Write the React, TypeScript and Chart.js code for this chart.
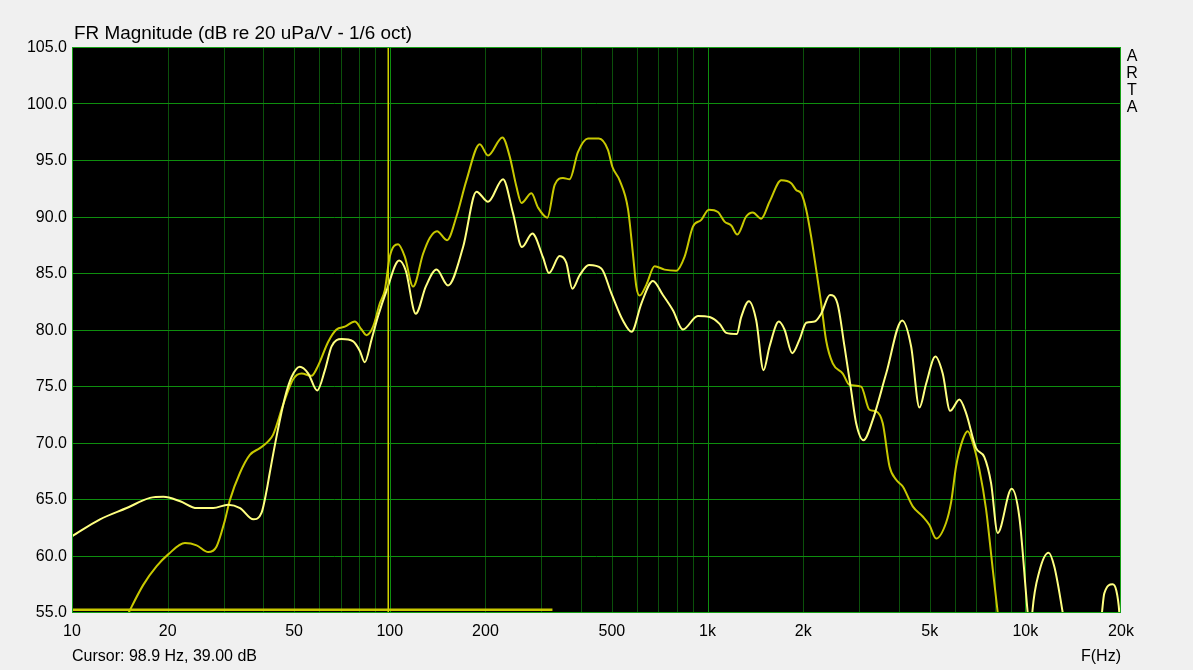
import React, { useEffect, useRef } from "react";
import { Chart, registerables } from "chart.js";

Chart.register(...registerables);

// ---- data ----
const lightFreq = [10, 12.25, 14.86, 17.6, 19.4, 21.9, 24.7, 27.8, 31.0, 33.8, 37.2, 39.5, 41.0, 41.9, 44.0, 46.8, 49.1, 52.1, 55.4, 59.1, 62.5, 65.6, 70.5, 76.7, 80.5, 83.4, 87.6, 91.9, 97.6, 107, 112.3, 120.7, 129.8, 140.3, 152.5, 170.1, 187.4, 203.8, 227.2, 244.2, 260.6, 281, 303.4, 316.9, 342.4, 359.4, 375.4, 395.8, 423.4, 463.2, 498.1, 541.6, 576.8, 618.9, 673, 723.6, 778, 836, 932.3, 1015, 1091, 1145, 1236, 1276, 1349, 1423, 1500, 1567, 1676, 1746, 1847, 1947, 2044, 2171, 2278, 2428, 2563, 2697, 2831, 2935, 3095, 3310, 3648, 4097, 4371, 4642, 4873, 5212, 5495, 5798, 6202, 6509, 6998, 7431, 7801, 8184, 9056, 9574, 10167, 10390, 10520, 11070, 11840, 12340, 13100, 14260, 16480, 17430, 17720, 18820, 19330, 19750, 20000];
const lightDb = [61.7, 63.2, 64.2, 65.1, 65.2, 64.8, 64.2, 64.2, 64.5, 64.2, 63.2, 63.8, 65.8, 67.3, 70.5, 74.0, 75.8, 76.7, 76.1, 74.6, 76.4, 78.5, 79.15, 78.95, 78.1, 77.1, 79.1, 81.2, 83.4, 86.1, 85.2, 81.4, 83.8, 85.3, 83.9, 87.3, 92.2, 91.3, 93.3, 90.3, 87.3, 88.5, 86.4, 85.0, 86.5, 85.9, 83.6, 84.8, 85.7, 85.4, 83.2, 80.8, 79.8, 82.3, 84.3, 83.05, 81.7, 80.0, 81.2, 81.1, 80.5, 79.7, 79.6, 81.1, 82.5, 80.8, 76.4, 78.5, 80.7, 80.0, 77.9, 79.1, 80.6, 80.7, 81.4, 83.05, 82.3, 78.5, 74.6, 71.7, 70.2, 72.0, 76.1, 80.8, 78.5, 73.1, 75.2, 77.6, 76.1, 72.8, 73.8, 72.6, 69.5, 68.7, 66.4, 62.0, 65.9, 63.4, 55.0, 52.5, 55.0, 58.6, 60.25, 59.0, 55.0, 48, 48, 55.0, 56.65, 57.45, 56.9, 55.0, 52];

const darkFreq = [14.8, 16.76, 18.47, 20.08, 22.66, 24.67, 26.83, 28.51, 30.27, 31.39, 33.76, 36.28, 39.01, 41.43, 42.95, 46.19, 49.65, 52.77, 56.73, 59.5, 63.97, 67.97, 72.2, 77.62, 81.47, 84.47, 88.6, 93.0, 96.5, 100, 106.2, 111.5, 118.4, 127.3, 133.6, 140.8, 151.4, 162.1, 174.3, 191.9, 203.8, 226.2, 238.5, 250.3, 259.6, 279.1, 292.7, 313.3, 330.3, 350.8, 368.1, 390.9, 420.5, 455, 485.9, 501.6, 528.9, 561.6, 582.3, 596.8, 611.2, 641.6, 681.3, 732.3, 797.5, 846.9, 899.3, 955.4, 1009, 1078, 1131, 1187, 1240, 1323, 1388, 1475, 1567, 1706, 1833, 1900, 1970, 2044, 2119, 2197, 2278, 2362, 2477, 2664, 2796, 3043, 3231, 3393, 3559, 3736, 3922, 4115, 4422, 4754, 4991, 5239, 5631, 5839, 6055, 6354, 6587, 6830, 7168, 7522, 7896, 8183, 8590];
const darkDb = [54.5, 57.4, 59.05, 60.1, 61.1, 60.9, 60.3, 60.8, 63.1, 64.9, 67.3, 68.9, 69.5, 70.1, 70.7, 73.35, 75.6, 76.1, 75.9, 76.8, 78.9, 80.0, 80.25, 80.7, 80.0, 79.5, 80.25, 82.3, 83.5, 86.45, 87.55, 86.45, 83.8, 86.7, 88.1, 88.7, 87.9, 90.0, 93.2, 96.4, 95.4, 97.0, 95.3, 92.65, 91.2, 92.05, 90.8, 89.9, 92.8, 93.4, 93.3, 95.7, 96.9, 96.9, 95.9, 94.4, 93.2, 90.7, 86.7, 83.8, 83.0, 83.95, 85.6, 85.3, 85.2, 86.45, 89.1, 89.7, 90.6, 90.4, 89.55, 89.2, 88.4, 90.0, 90.35, 89.8, 91.3, 93.2, 92.95, 92.35, 92.05, 90.6, 88.2, 85.3, 82.3, 79.0, 77.0, 76.1, 75.1, 74.95, 72.9, 72.75, 71.7, 67.9, 66.7, 66.1, 64.35, 63.45, 62.7, 61.5, 62.9, 64.7, 67.9, 70.25, 71.0, 70.0, 67.6, 64.1, 58.8, 55.0, 50.0];

// a third trace that sits on the bottom edge (clipped)
const floorFreq = [10, 325];
const floorDb = [55.2, 55.2];

const cursorFreq = 98.9;
const cursorDbRange = [55, 105];

const gridFreqs = [20, 30, 40, 50, 60, 70, 80, 90, 100, 200, 300, 400, 500, 600, 700, 800, 900, 1000, 2000, 3000, 4000, 5000, 6000, 7000, 8000, 9000, 10000];
const decadeFreqs = [100, 1000, 10000];
const xLabelFreqs = [10, 20, 50, 100, 200, 500, 1000, 2000, 5000, 10000, 20000];
const xLabelTexts = ["10", "20", "50", "100", "200", "500", "1k", "2k", "5k", "10k", "20k"];
const yTicks = [55, 60, 65, 70, 75, 80, 85, 90, 95, 100, 105];

const titleText = "FR Magnitude (dB re 20 uPa/V - 1/6 oct)";
const cursorText = "Cursor: 98.9 Hz, 39.00 dB";
const xAxisTitle = "F(Hz)";
const brandLetters = ["A", "R", "T", "A"];

const FONT = '"Liberation Sans", Arial, sans-serif';

const zip = (xs: number[], ys: number[]) => xs.map((x, i) => ({ x, y: ys[i] }));

export default function App() {
  const ref = useRef<HTMLCanvasElement | null>(null);

  useEffect(() => {
    const canvas = ref.current;
    if (!canvas) return;

    const bgPlugin = {
      id: "bgPlugin",
      beforeDraw(chart: any) {
        const { ctx, chartArea } = chart;
        ctx.save();
        ctx.fillStyle = "#f0f0f0";
        ctx.fillRect(0, 0, chart.width, chart.height);
        ctx.fillStyle = "#000000";
        ctx.fillRect(chartArea.left, chartArea.top, chartArea.right - chartArea.left, chartArea.bottom - chartArea.top);
        ctx.restore();
      },
      beforeDatasetsDraw(chart: any) {
        const { ctx, chartArea, scales } = chart;
        const xs = scales.x;
        const ys = scales.y;
        ctx.save();
        ctx.lineWidth = 1;
        gridFreqs.forEach((f) => {
          const px = Math.round(xs.getPixelForValue(f)) + 0.5;
          ctx.strokeStyle = decadeFreqs.includes(f) ? "#0e8e0e" : "#0b500b";
          ctx.beginPath();
          ctx.moveTo(px, chartArea.top);
          ctx.lineTo(px, chartArea.bottom);
          ctx.stroke();
        });
        ctx.strokeStyle = "#0e8e0e";
        yTicks.forEach((v) => {
          const py = Math.round(ys.getPixelForValue(v)) + 0.5;
          ctx.beginPath();
          ctx.moveTo(chartArea.left, py);
          ctx.lineTo(chartArea.right, py);
          ctx.stroke();
        });
        ctx.restore();
      },
      afterDatasetsDraw(chart: any) {
        const { ctx, chartArea } = chart;
        ctx.save();
        ctx.strokeStyle = "#17a017";
        ctx.lineWidth = 1;
        ctx.strokeRect(chartArea.left + 0.5, chartArea.top + 0.5, chartArea.right - chartArea.left - 1, chartArea.bottom - chartArea.top);
        ctx.restore();
      },
      afterDraw(chart: any) {
        const { ctx, chartArea, scales } = chart;
        const xs = scales.x;
        const ys = scales.y;
        ctx.save();
        ctx.fillStyle = "#000";
        ctx.font = `16px ${FONT}`;
        ctx.textAlign = "right";
        ctx.textBaseline = "middle";
        yTicks.forEach((v) => {
          ctx.fillText(v.toFixed(1), chartArea.left - 5, ys.getPixelForValue(v) + 1);
        });
        ctx.textAlign = "center";
        xLabelFreqs.forEach((f, i) => {
          ctx.fillText(xLabelTexts[i], xs.getPixelForValue(f), chartArea.bottom + 20);
        });
        ctx.textAlign = "left";
        ctx.fillText(cursorText, chartArea.left, chartArea.bottom + 45);
        ctx.textAlign = "right";
        ctx.fillText(xAxisTitle, chartArea.right, chartArea.bottom + 45);
        ctx.textAlign = "center";
        brandLetters.forEach((l, i) => {
          ctx.fillText(l, chartArea.right + 11, chartArea.top + 10 + i * 17);
        });
        ctx.font = `18.9px ${FONT}`;
        ctx.textAlign = "left";
        ctx.textBaseline = "alphabetic";
        ctx.fillText(titleText, chartArea.left + 2, chartArea.top - 8);
        ctx.restore();
      },
    };

    const chart = new Chart(canvas, {
      type: "line",
      data: {
        datasets: [
          {
            label: "cursor",
            data: [
              { x: cursorFreq, y: cursorDbRange[0] },
              { x: cursorFreq, y: cursorDbRange[1] },
            ],
            borderColor: "#d2d200",
            borderWidth: 1.5,
            pointRadius: 0,
            tension: 0,
          },
          {
            label: "light",
            data: zip(lightFreq, lightDb),
            borderColor: "#ffff80",
            borderWidth: 2,
            pointRadius: 0,
            cubicInterpolationMode: "monotone",
          },
          {
            label: "dark",
            data: zip(darkFreq, darkDb),
            borderColor: "#c8c800",
            borderWidth: 2,
            pointRadius: 0,
            cubicInterpolationMode: "monotone",
          },
          {
            label: "floor",
            data: zip(floorFreq, floorDb),
            borderColor: "#c8c800",
            borderWidth: 2.5,
            pointRadius: 0,
            tension: 0,
          },
        ] as any,
      },
      options: {
        animation: false,
        responsive: false,
        maintainAspectRatio: false,
        parsing: false,
        layout: { padding: { left: 72, top: 47, right: 72, bottom: 58 } },
        plugins: {
          legend: { display: false },
          tooltip: { enabled: false },
        },
        elements: { point: { radius: 0 } },
        datasets: { line: { clip: 0 } } as any,
        scales: {
          x: {
            type: "logarithmic",
            min: 10,
            max: 20000,
            ticks: { display: false },
            grid: { display: false, drawTicks: false },
            border: { display: false },
          },
          y: {
            type: "linear",
            min: 55,
            max: 105,
            ticks: { display: false },
            grid: { display: false, drawTicks: false },
            border: { display: false },
          },
        },
      } as any,
      plugins: [bgPlugin],
    });

    return () => chart.destroy();
  }, []);

  return (
    <div style={{ position: "fixed", left: 0, top: 0, width: 1193, height: 670, background: "#f0f0f0" }}>
      <canvas ref={ref} width={1193} height={670} style={{ display: "block", width: 1193, height: 670 }} />
    </div>
  );
}
